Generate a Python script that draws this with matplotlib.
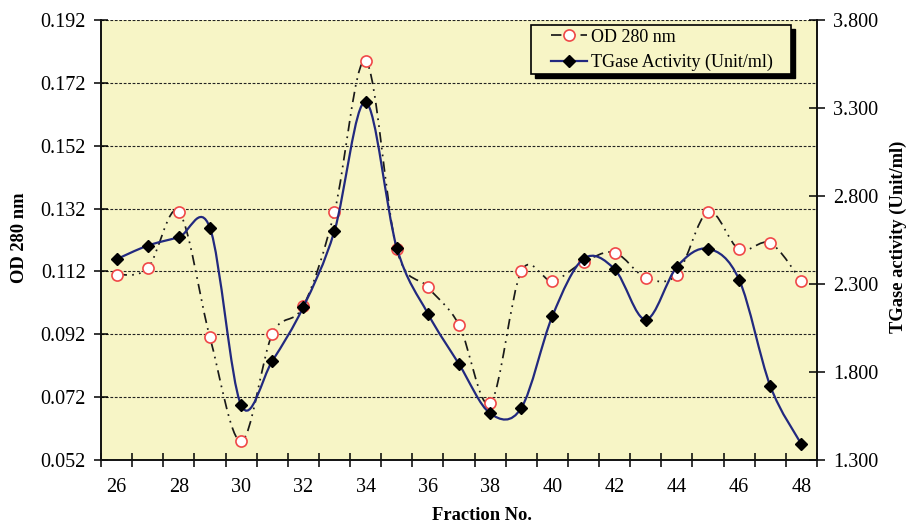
import numpy as np
import matplotlib
matplotlib.use("Agg")
import matplotlib.pyplot as plt
from matplotlib.path import Path
from matplotlib.patches import PathPatch, Rectangle
from matplotlib.lines import Line2D
from matplotlib.ticker import FixedLocator, FuncFormatter
from matplotlib.transforms import offset_copy

fractions = list(range(26, 49))
od280 = [0.111, 0.113, 0.131, 0.091, 0.058, 0.092, 0.101, 0.131, 0.179, 0.119,
         0.107, 0.095, 0.070, 0.112, 0.109, 0.115, 0.118, 0.110, 0.111, 0.131,
         0.119, 0.121, 0.109]
tgase = [2.441, 2.518, 2.566, 2.619, 1.612, 1.862, 2.170, 2.602, 3.334, 2.507,
         2.132, 1.845, 1.565, 1.595, 2.118, 2.443, 2.384, 2.098, 2.398, 2.500,
         2.324, 1.720, 1.389]
left_ticks = [0.052, 0.072, 0.092, 0.112, 0.132, 0.152, 0.172, 0.192]
right_ticks = [1.3, 1.8, 2.3, 2.8, 3.3, 3.8]
x_labels = [26, 28, 30, 32, 34, 36, 38, 40, 42, 44, 46, 48]

plt.rcParams['font.family'] = ['Liberation Serif', 'DejaVu Serif']

BG = '#F7F5C6'
NAVY = '#22297F'
RED = '#F04848'


def smooth_path(x, y):
    x = np.asarray(x, float)
    y = np.asarray(y, float)
    n = len(x)
    P = np.column_stack([x, y])
    verts = [P[0]]
    codes = [Path.MOVETO]
    for i in range(n - 1):
        p0 = P[i - 1] if i > 0 else P[i]
        p1 = P[i]
        p2 = P[i + 1]
        p3 = P[i + 2] if i + 2 < n else P[i + 1]
        c1 = p1 + (p2 - p0) / 6.0
        c2 = p2 - (p3 - p1) / 6.0
        verts += [c1, c2, p2]
        codes += [Path.CURVE4] * 3
    return Path(verts, codes)


fig = plt.figure(figsize=(9.08, 5.24), dpi=100)
ax = fig.add_axes([101 / 908, 1 - 460 / 524, 716 / 908, 440 / 524])
ax.set_facecolor(BG)
ax2 = ax.twinx()

od_dash = (0, (6, 3, 1, 3, 1, 3))

# OD curve
ax.add_patch(PathPatch(smooth_path(fractions, od280), facecolor='none',
                       edgecolor='#1a1a1a', lw=1.25, linestyle=od_dash, zorder=2))
ax.plot(fractions, od280, linestyle='none', marker='o', markersize=8,
        markerfacecolor='white', markeredgecolor=RED, markeredgewidth=1.2, zorder=3)

# TGase curve
ax2.add_patch(PathPatch(smooth_path(fractions, tgase), facecolor='none',
                        edgecolor=NAVY, lw=1.6, zorder=2))
ax2.plot(fractions, tgase, linestyle='none', marker='D', markersize=6.5,
         color='black', zorder=3)

ax.set_xlim(25.5, 48.5)
ax.set_ylim(0.052, 0.192)
ax2.set_ylim(1.3, 3.8)

ax.xaxis.set_major_locator(FixedLocator(np.arange(25.5, 49.0, 1.0)))
ax.xaxis.set_major_formatter(FuncFormatter(lambda v, p: ''))
ax.xaxis.set_minor_locator(FixedLocator(x_labels))
ax.xaxis.set_minor_formatter(FuncFormatter(lambda v, p: f'{int(round(v))}'))
ax.tick_params(axis='x', which='major', direction='inout', length=10, width=1.1)
ax.tick_params(axis='x', which='minor', length=0, pad=13, labelsize=14.5)

ax.set_yticks(left_ticks)
ax.yaxis.set_major_formatter(FuncFormatter(lambda v, p: f'{v:.3f}'))
ax.tick_params(axis='y', direction='inout', length=10, width=1.1, labelsize=14.5, pad=6)
ax2.set_yticks(right_ticks)
ax2.yaxis.set_major_formatter(FuncFormatter(lambda v, p: f'{v:.3f}'))
ax2.tick_params(axis='y', direction='inout', length=11, width=1.1, labelsize=14.5, pad=6)

ax.yaxis.grid(True, color='#222222', linestyle=(0, (2.5, 1.5)), linewidth=0.8)
ax.set_axisbelow(True)

for a in (ax, ax2):
    a.spines['top'].set_visible(False)
    for s in ('left', 'right', 'bottom'):
        a.spines[s].set_linewidth(1.2)
        a.spines[s].set_color('#111111')

fig.text(20 / 908, 1 - 238 / 524, 'OD 280 nm', rotation=90, ha='center', va='center',
         fontsize=13.3, fontweight='bold')
fig.text(898 / 908, 1 - 237 / 524, 'TGase activity (Unit/ml)', rotation=90,
         ha='center', va='center', fontsize=13.3, fontweight='bold')
fig.text(482 / 908, 1 - 515 / 524, 'Fraction No.', ha='center', va='center',
         fontsize=13.3, fontweight='bold')

# legend frame with drop shadow
fx0, fx1 = (530.7 - 101) / 716, (790.7 - 101) / 716
fy0, fy1 = (460 - 74) / 440, (460 - 25) / 440
shadow_tr = offset_copy(ax2.transAxes, fig=fig, x=4, y=-4, units='dots')
ax2.add_patch(Rectangle((fx0, fy0), fx1 - fx0, fy1 - fy0, transform=shadow_tr,
                        facecolor='black', edgecolor='black', zorder=5, clip_on=False))
ax2.add_patch(Rectangle((fx0, fy0), fx1 - fx0, fy1 - fy0, transform=ax2.transAxes,
                        facecolor=BG, edgecolor='black', lw=1.2, zorder=5.1, clip_on=False))

h1 = Line2D([], [], color='#1a1a1a', lw=1.25, linestyle=od_dash, marker='o',
            markersize=8, markerfacecolor='white', markeredgecolor=RED,
            markeredgewidth=1.2)
h2 = Line2D([], [], color=NAVY, lw=1.6, marker='D', markersize=6.5,
            markerfacecolor='black', markeredgecolor='black')
leg = ax2.legend([h1, h2], ['OD 280 nm', 'TGase Activity (Unit/ml)'],
                 loc='center', bbox_to_anchor=((661.5 - 101) / 716, (460 - 50) / 440),
                 borderaxespad=0, frameon=False, fontsize=13,
                 handlelength=2.0, handletextpad=0.22, labelspacing=0.45, borderpad=0.2)
leg.set_zorder(6)

fig.savefig('out.png', dpi=100)
